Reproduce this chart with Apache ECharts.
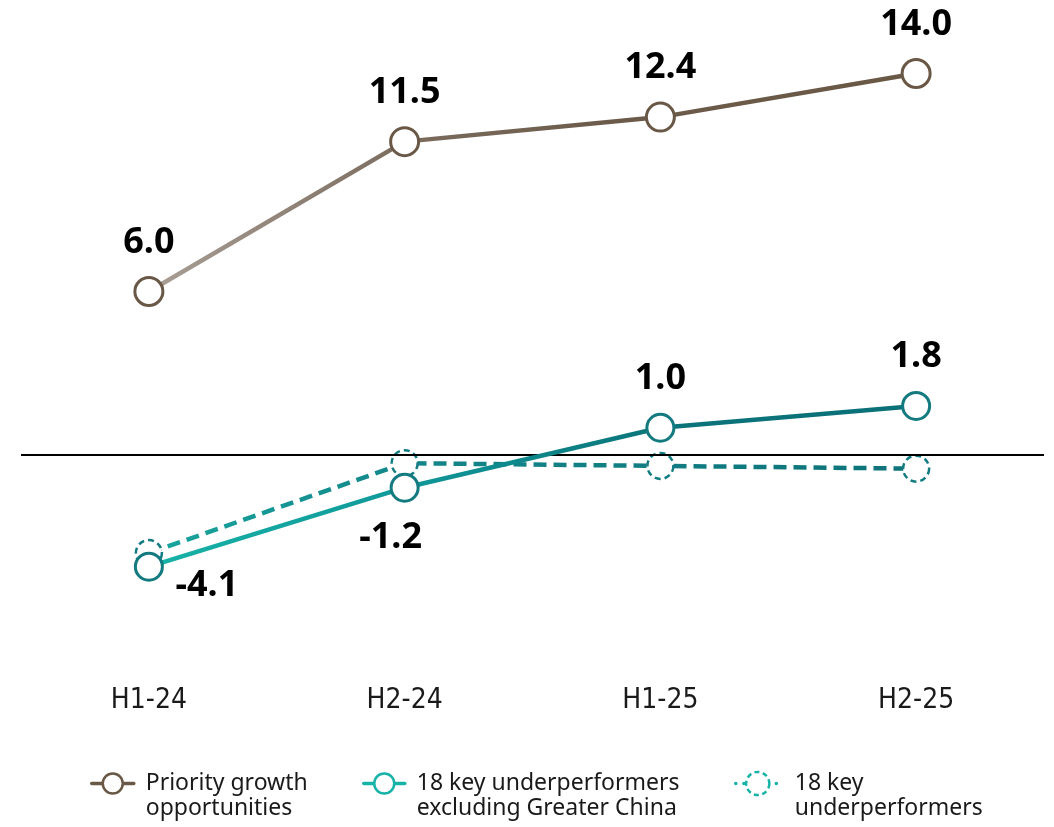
<!DOCTYPE html>
<html>
<head>
<meta charset="utf-8">
<script src="https://cdn.jsdelivr.net/npm/echarts@6/dist/echarts.min.js"></script>
<style>
  html, body { margin: 0; padding: 0; background: #ffffff; }
  #chart { width: 1054px; height: 827px; }
</style>
</head>
<body>
<div id="chart"></div>
<script>
// Half-year periods on the category axis
const categories = ['H1-24', 'H2-24', 'H1-25', 'H2-25'];

// Series values
const priorityGrowth = [6.0, 11.5, 12.4, 14.0];
const underperformersExChina = [-4.1, -1.2, 1.0, 1.8];
const underperformersAll = [-3.6, -0.3, -0.4, -0.5];

// Series names and the two-line legend text
const seriesNames = [
  'Priority growth opportunities',
  '18 key underperformers excluding Greater China',
  '18 key underperformers'
];
const legendLabels = [
  'Priority growth\nopportunities',
  '18 key underperformers\nexcluding Greater China',
  '18 key\nunderperformers'
];

// Label placement relative to each point (style only)
const brownLabelOffsets = [[0, -49], [0, -49], [0, -49], [0, -49]];
const tealLabelOffsets = [[58, 19], [-14, 50], [0, -49], [0, -49]];

const BROWN = '#6a5846';
const TEAL_DARK = '#0b7078';
const TEAL_LIGHT = '#17b3a7';

const valueLabelStyle = {
  show: true,
  position: 'inside',
  fontFamily: 'Noto Sans',
  fontWeight: 'bold',
  fontSize: 36,
  color: '#000000'
};

function labelled(values, offsets) {
  return values.map((v, i) => ({
    value: v,
    label: Object.assign({}, valueLabelStyle, {
      offset: offsets[i],
      formatter: () => v.toFixed(1)
    })
  }));
}

const chart = echarts.init(document.getElementById('chart'), null, { renderer: 'canvas' });

// Legend text: a leading blank line keeps the first text line level with the icon
const legendText = {
  fontFamily: 'Noto Sans',
  fontSize: 23,
  lineHeight: 25,
  color: '#1a1a1a',
  padding: [0, 0, 0, 7]
};

chart.setOption({
  animation: false,
  backgroundColor: '#ffffff',
  grid: { left: 21, right: 10, top: 46.25, bottom: 208.5, containLabel: false },
  xAxis: {
    type: 'category',
    data: categories,
    boundaryGap: true,
    axisLine: { show: false },
    axisTick: { show: false },
    axisLabel: {
      margin: 68,
      fontFamily: "'DejaVu Sans Condensed', 'Liberation Sans Narrow', Roboto, sans-serif",
      fontSize: 28,
      color: '#1a1a1a'
    },
    splitLine: { show: false }
  },
  yAxis: {
    type: 'value',
    min: -6,
    max: 15,
    show: false
  },
  legend: [
    {
      left: 90, top: 746, padding: 0, itemWidth: 42, itemHeight: 25, selectedMode: false,
      data: [{
        name: seriesNames[0],
        itemStyle: { color: '#ffffff', borderColor: BROWN, borderWidth: 2.5 },
        lineStyle: { color: BROWN, width: 3.5, cap: 'round' }
      }],
      formatter: () => '\n' + legendLabels[0],
      textStyle: legendText
    },
    {
      left: 362, top: 746, padding: 0, itemWidth: 41, itemHeight: 25, selectedMode: false,
      data: [{
        name: seriesNames[1],
        itemStyle: { color: '#ffffff', borderColor: TEAL_LIGHT, borderWidth: 2.5 },
        lineStyle: { color: TEAL_LIGHT, width: 3.5, cap: 'round' }
      }],
      formatter: () => '\n' + legendLabels[1],
      textStyle: legendText
    },
    {
      left: 734, top: 746, padding: 0, itemWidth: 44, itemHeight: 29, selectedMode: false,
      data: [{
        name: seriesNames[2],
        itemStyle: { color: '#ffffff', borderColor: TEAL_LIGHT, borderWidth: 2.5, borderType: [5, 3.5] },
        lineStyle: { color: TEAL_LIGHT, width: 3.5, type: [0.1, 8], cap: 'round' }
      }],
      formatter: () => '\n' + legendLabels[2],
      textStyle: Object.assign({}, legendText, { padding: [0, 0, 0, 10] })
    }
  ],
  series: [
    {
      name: seriesNames[0],
      type: 'line',
      z: 3,
      data: labelled(priorityGrowth, brownLabelOffsets),
      symbol: 'circle',
      symbolSize: 28,
      itemStyle: { color: '#ffffff', borderColor: BROWN, borderWidth: 3 },
      lineStyle: {
        width: 4.5,
        color: new echarts.graphic.LinearGradient(0, 0, 1, 0, [
          { offset: 0, color: '#aaa097' },
          { offset: 0.33, color: '#7b6c5e' },
          { offset: 0.6, color: '#6c5b4a' },
          { offset: 1, color: BROWN }
        ])
      },
      markLine: {
        silent: true,
        symbol: 'none',
        label: { show: false },
        lineStyle: { color: '#000000', width: 2, type: 'solid' },
        data: [{ yAxis: 0 }]
      }
    },
    {
      name: seriesNames[2],
      type: 'line',
      z: 4,
      data: underperformersAll,
      symbol: 'circle',
      symbolSize: 26,
      itemStyle: { color: '#ffffff', borderColor: '#137c82', borderWidth: 2.5, borderType: [6, 4] },
      lineStyle: {
        width: 4.5,
        type: [13, 7],
        color: new echarts.graphic.LinearGradient(0, 0, 1, 0, [
          { offset: 0, color: '#18a69e' },
          { offset: 0.33, color: '#13868a' },
          { offset: 1, color: '#0c7379' }
        ])
      },
      label: { show: false }
    },
    {
      name: seriesNames[1],
      type: 'line',
      z: 5,
      data: labelled(underperformersExChina, tealLabelOffsets),
      symbol: 'circle',
      symbolSize: 27,
      itemStyle: { color: '#ffffff', borderColor: '#137a80', borderWidth: 3 },
      lineStyle: {
        width: 4.5,
        color: new echarts.graphic.LinearGradient(0, 0, 1, 0, [
          { offset: 0, color: TEAL_LIGHT },
          { offset: 0.33, color: '#10999a' },
          { offset: 0.66, color: '#0b747a' },
          { offset: 1, color: TEAL_DARK }
        ])
      }
    }
  ]
});
</script>
</body>
</html>
